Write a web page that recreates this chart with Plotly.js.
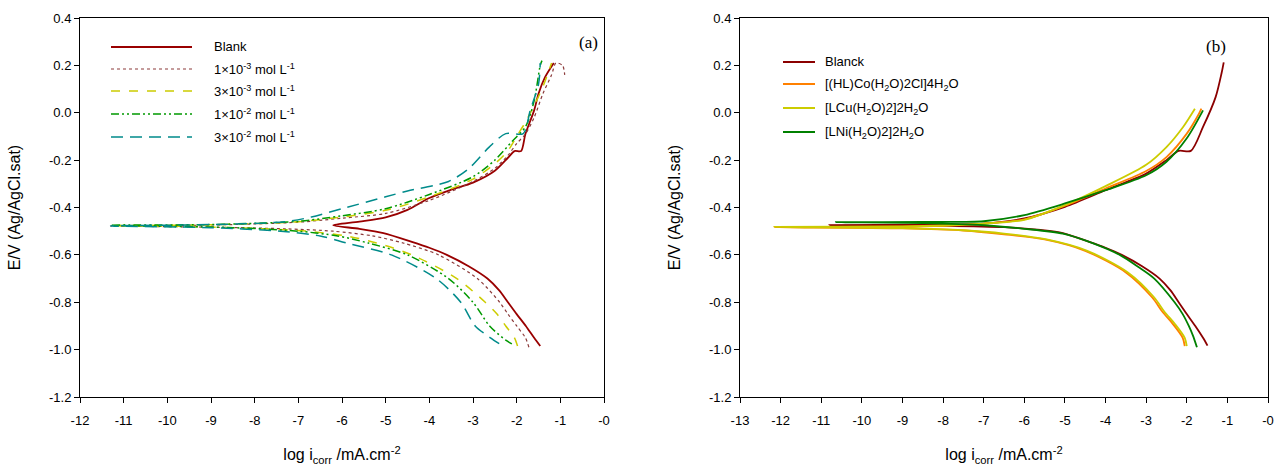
<!DOCTYPE html>
<html>
<head>
<meta charset="utf-8">
<script src="https://cdn.plot.ly/plotly-3.0.1.min.js"></script>
<style>html,body{margin:0;padding:0;background:#fff;}#chart{width:1276px;height:468px;}</style>
</head>
<body>
<div id="chart"></div>
<script>
// ---------- Panel (a) data: log i (x) and E (y), cathodic end -> Ecorr -> anodic end ----------
const blankAX = [-1.46,-1.6,-1.79,-2.0,-2.2,-2.4,-2.67,-3.1,-3.6,-4.0,-4.4,-5.05,-5.6,-6.2,-5.6,-5.0,-4.5,-4.0,-3.5,-3.0,-2.5,-2.2,-2.05,-1.9,-1.8,-1.6,-1.5,-1.35,-1.15];
const blankAY = [-0.985,-0.95,-0.9,-0.85,-0.8,-0.75,-0.7,-0.648,-0.6,-0.57,-0.545,-0.508,-0.49,-0.475,-0.46,-0.442,-0.41,-0.36,-0.325,-0.295,-0.245,-0.19,-0.162,-0.162,-0.09,0.01,0.08,0.15,0.21];

const c1e3X = [-1.72,-1.8,-2.0,-2.2,-2.39,-2.9,-3.79,-4.6,-5.3,-6.2,-7.3,-9,-11.3,-9,-7,-6,-5,-4,-3,-2.5,-2.2,-2.0,-1.8,-1.6,-1.4,-1.2,-1.1,-0.95,-0.9];
const c1e3Y = [-0.99,-0.95,-0.9,-0.85,-0.8,-0.7,-0.6,-0.55,-0.52,-0.5,-0.49,-0.483,-0.478,-0.474,-0.462,-0.445,-0.425,-0.37,-0.29,-0.235,-0.18,-0.13,-0.09,-0.02,0.08,0.16,0.21,0.2,0.16];

const c3e3X = [-1.98,-2.05,-2.25,-2.45,-2.72,-3.37,-4.4,-5.2,-5.9,-6.8,-7.8,-9.5,-11.3,-9,-7,-6,-5,-4,-3,-2.5,-2.2,-2.0,-1.8,-1.6,-1.4,-1.2];
const c3e3Y = [-0.985,-0.95,-0.9,-0.85,-0.8,-0.7,-0.6,-0.55,-0.52,-0.5,-0.49,-0.48,-0.477,-0.473,-0.46,-0.44,-0.412,-0.355,-0.28,-0.215,-0.16,-0.1,-0.04,0.03,0.11,0.21];

const c1e2X = [-2.11,-2.25,-2.62,-3.0,-3.56,-4.5,-5.4,-6.1,-7.0,-8.5,-11.3,-9,-7,-6,-5,-4,-3,-2.5,-2.1,-1.8,-1.6,-1.46,-1.42];
const c1e2Y = [-0.976,-0.96,-0.9,-0.8,-0.7,-0.6,-0.55,-0.52,-0.5,-0.485,-0.475,-0.472,-0.458,-0.435,-0.405,-0.345,-0.27,-0.2,-0.12,-0.06,0.05,0.2,0.22];

const c3e2X = [-2.4,-2.6,-2.95,-3.28,-3.84,-4.87,-5.9,-6.5,-7.4,-9,-11.3,-9,-7.3,-6.7,-6.0,-5.0,-4.5,-3.56,-3.1,-2.63,-2.25,-1.85,-1.69,-1.5,-1.46];
const c3e2Y = [-0.975,-0.95,-0.9,-0.8,-0.7,-0.6,-0.55,-0.52,-0.5,-0.485,-0.478,-0.472,-0.46,-0.44,-0.405,-0.355,-0.33,-0.29,-0.236,-0.145,-0.088,-0.088,0.01,0.12,0.21];

// ---------- Panel (b) data ----------
const blanckX = [-1.49,-1.6,-1.79,-2.0,-2.2,-2.4,-2.67,-3.1,-3.6,-4.0,-4.4,-5.05,-5.6,-6.5,-8.0,-10.8,-8.5,-7.0,-6.0,-5.0,-4.0,-3.0,-2.5,-2.2,-1.9,-1.6,-1.29,-1.14,-1.09];
const blanckY = [-0.983,-0.95,-0.9,-0.85,-0.8,-0.75,-0.7,-0.648,-0.6,-0.57,-0.545,-0.508,-0.495,-0.483,-0.477,-0.474,-0.472,-0.468,-0.446,-0.397,-0.327,-0.257,-0.2,-0.161,-0.161,-0.06,0.066,0.17,0.213];

const coX = [-2.05,-2.1,-2.35,-2.6,-2.85,-3.5,-4.5,-5.5,-6.5,-7.5,-9,-12.15,-9,-8,-7,-6,-5,-4,-3,-2.5,-2.0,-1.7,-1.64];
const coY = [-0.985,-0.95,-0.89,-0.84,-0.78,-0.674,-0.583,-0.535,-0.513,-0.497,-0.488,-0.483,-0.481,-0.477,-0.468,-0.45,-0.392,-0.32,-0.246,-0.187,-0.088,-0.004,0.017];

const cuX = [-2.0,-2.05,-2.3,-2.55,-2.8,-3.45,-4.45,-5.45,-6.5,-7.5,-9,-12.15,-9,-8,-7,-6,-5,-4,-3,-2.5,-2.09,-1.8];
const cuY = [-0.985,-0.95,-0.89,-0.84,-0.78,-0.674,-0.583,-0.535,-0.51,-0.496,-0.487,-0.482,-0.48,-0.476,-0.468,-0.452,-0.39,-0.31,-0.22,-0.145,-0.06,0.017];

const niX = [-1.75,-1.85,-1.95,-2.1,-2.3,-2.8,-3.2,-3.65,-4.4,-5.05,-6,-7,-8.5,-10.64,-8.5,-7,-6,-5,-4,-3,-2.5,-2.0,-1.6];
const niY = [-0.99,-0.94,-0.9,-0.85,-0.8,-0.7,-0.65,-0.6,-0.545,-0.51,-0.49,-0.475,-0.466,-0.462,-0.461,-0.458,-0.432,-0.383,-0.327,-0.264,-0.207,-0.108,0.01];

// ---------- labels ----------
const namesA = ['Blank','1×10<sup>-3</sup> mol L<sup>-1</sup>','3×10<sup>-3</sup> mol L<sup>-1</sup>','1×10<sup>-2</sup> mol L<sup>-1</sup>','3×10<sup>-2</sup> mol L<sup>-1</sup>'];
const namesB = ['Blanck','[(HL)Co(H<sub>2</sub>O)2Cl]4H<sub>2</sub>O','[LCu(H<sub>2</sub>O)2]2H<sub>2</sub>O','[LNi(H<sub>2</sub>O)2]2H<sub>2</sub>O'];
const xTicksA = [-12,-11,-10,-9,-8,-7,-6,-5,-4,-3,-2,-1,0];
const xTickTextA = ['-12','-11','-10','-9','-8','-7','-6','-5','-4','-3','-2','-1','-0'];
const xTicksB = [-13,-12,-11,-10,-9,-8,-7,-6,-5,-4,-3,-2,-1,0];
const xTickTextB = ['-13','-12','-11','-10','-9','-8','-7','-6','-5','-4','-3','-2','-1','-0'];
const yTicks = [0.4,0.2,0.0,-0.2,-0.4,-0.6,-0.8,-1.0,-1.2];
const yTickText = ['0.4','0.2','0.0','-0.2','-0.4','-0.6','-0.8','-1.0','-1.2'];

// ---------- styles ----------
const colA = ['#990000','#8B3A3A','#CCCC00','#009900','#008B8B'];
const dashA = ['solid','dot','dash','8px,3px,2px,3px,2px,3px','12px,7px'];
const widthA = [1.8,1.2,1.5,1.5,1.5];
const colB = ['#8B0000','#FF8000','#CCCC00','#008000'];

const dataA = [[blankAX,blankAY],[c1e3X,c1e3Y],[c3e3X,c3e3Y],[c1e2X,c1e2Y],[c3e2X,c3e2Y]];
const dataB = [[blanckX,blanckY],[coX,coY],[cuX,cuY],[niX,niY]];

const traces = [];
dataA.forEach((d,i)=>{
  traces.push({x:d[0],y:d[1],type:'scatter',mode:'lines',name:namesA[i],xaxis:'x',yaxis:'y',
    line:{color:colA[i],width:widthA[i],dash:dashA[i],shape:'spline',smoothing:0.8},showlegend:false,hoverinfo:'skip'});
});
dataB.forEach((d,i)=>{
  traces.push({x:d[0],y:d[1],type:'scatter',mode:'lines',name:namesB[i],xaxis:'x2',yaxis:'y2',
    line:{color:colB[i],width:1.8,shape:'spline',smoothing:0.8},showlegend:false,hoverinfo:'skip'});
});

// manual legends (pixel layout converted to paper coords)
const W = 1276, H = 468, L = 80, R = 8, T = 18, B = 71;
const pw = W-L-R, ph = H-T-B;
const px = v => (v-L)/pw;
const py = v => (H-B-v)/ph;
const shapes = [], annotations = [];
const rowsA = [47,69,91,114,137];
namesA.forEach((n,i)=>{
  shapes.push({type:'line',xref:'paper',yref:'paper',x0:px(111),x1:px(192),y0:py(rowsA[i]),y1:py(rowsA[i]),
    line:{color:colA[i],width:widthA[i],dash:dashA[i]}});
  annotations.push({xref:'paper',yref:'paper',x:px(212),y:py(rowsA[i]),xanchor:'left',yanchor:'middle',showarrow:false,
    text:n,font:{family:'Liberation Sans, Arial',size:13,color:'#000'}});
});
const rowsB = [62,84,108,132];
namesB.forEach((n,i)=>{
  shapes.push({type:'line',xref:'paper',yref:'paper',x0:px(783),x1:px(815),y0:py(rowsB[i]),y1:py(rowsB[i]),
    line:{color:colB[i],width:2}});
  annotations.push({xref:'paper',yref:'paper',x:px(823),y:py(rowsB[i]),xanchor:'left',yanchor:'middle',showarrow:false,
    text:n,font:{family:'Liberation Sans, Arial',size:13,color:'#000'}});
});
annotations.push({xref:'paper',yref:'paper',x:px(588),y:py(42),xanchor:'center',yanchor:'middle',showarrow:false,
  text:'(a)',font:{family:'Liberation Serif, Times New Roman',size:17,color:'#000'}});
annotations.push({xref:'paper',yref:'paper',x:px(1216),y:py(47),xanchor:'center',yanchor:'middle',showarrow:false,
  text:'(b)',font:{family:'Liberation Serif, Times New Roman',size:17,color:'#000'}});

const tickFont = {family:'Liberation Sans, Arial',size:13,color:'#000'};
const titleFont = {family:'Liberation Sans, Arial',size:16,color:'#000'};
const xBase = {showline:true,mirror:true,linecolor:'#000',linewidth:1,ticks:'outside',ticklen:5,tickcolor:'#000',
  showgrid:false,zeroline:false,tickfont:tickFont,ticklabelstandoff:6,
  title:{text:'log i<sub>corr</sub> /mA.cm<sup>-2</sup>',font:titleFont,standoff:22}};
const yBase = {showline:true,mirror:true,linecolor:'#000',linewidth:1,ticks:'outside',ticklen:5,tickcolor:'#000',
  showgrid:false,zeroline:false,tickfont:tickFont,range:[-1.2,0.4],tickvals:yTicks,ticktext:yTickText,
  title:{text:'E/V (Ag/AgCl.sat)',font:titleFont,standoff:24}};

const layout = {
  width:W,height:H,margin:{l:L,r:R,t:T,b:B},paper_bgcolor:'#fff',plot_bgcolor:'#fff',showlegend:false,
  xaxis:Object.assign({},xBase,{domain:[0,px(604)],range:[-12,0],tickvals:xTicksA,ticktext:xTickTextA,anchor:'y'}),
  yaxis:Object.assign({},yBase,{anchor:'x'}),
  xaxis2:Object.assign({},xBase,{domain:[px(740),1],range:[-13,0],tickvals:xTicksB,ticktext:xTickTextB,anchor:'y2'}),
  yaxis2:Object.assign({},yBase,{anchor:'x2'}),
  shapes:shapes,annotations:annotations
};
Plotly.newPlot('chart',traces,layout,{staticPlot:true});
</script>
</body>
</html>
